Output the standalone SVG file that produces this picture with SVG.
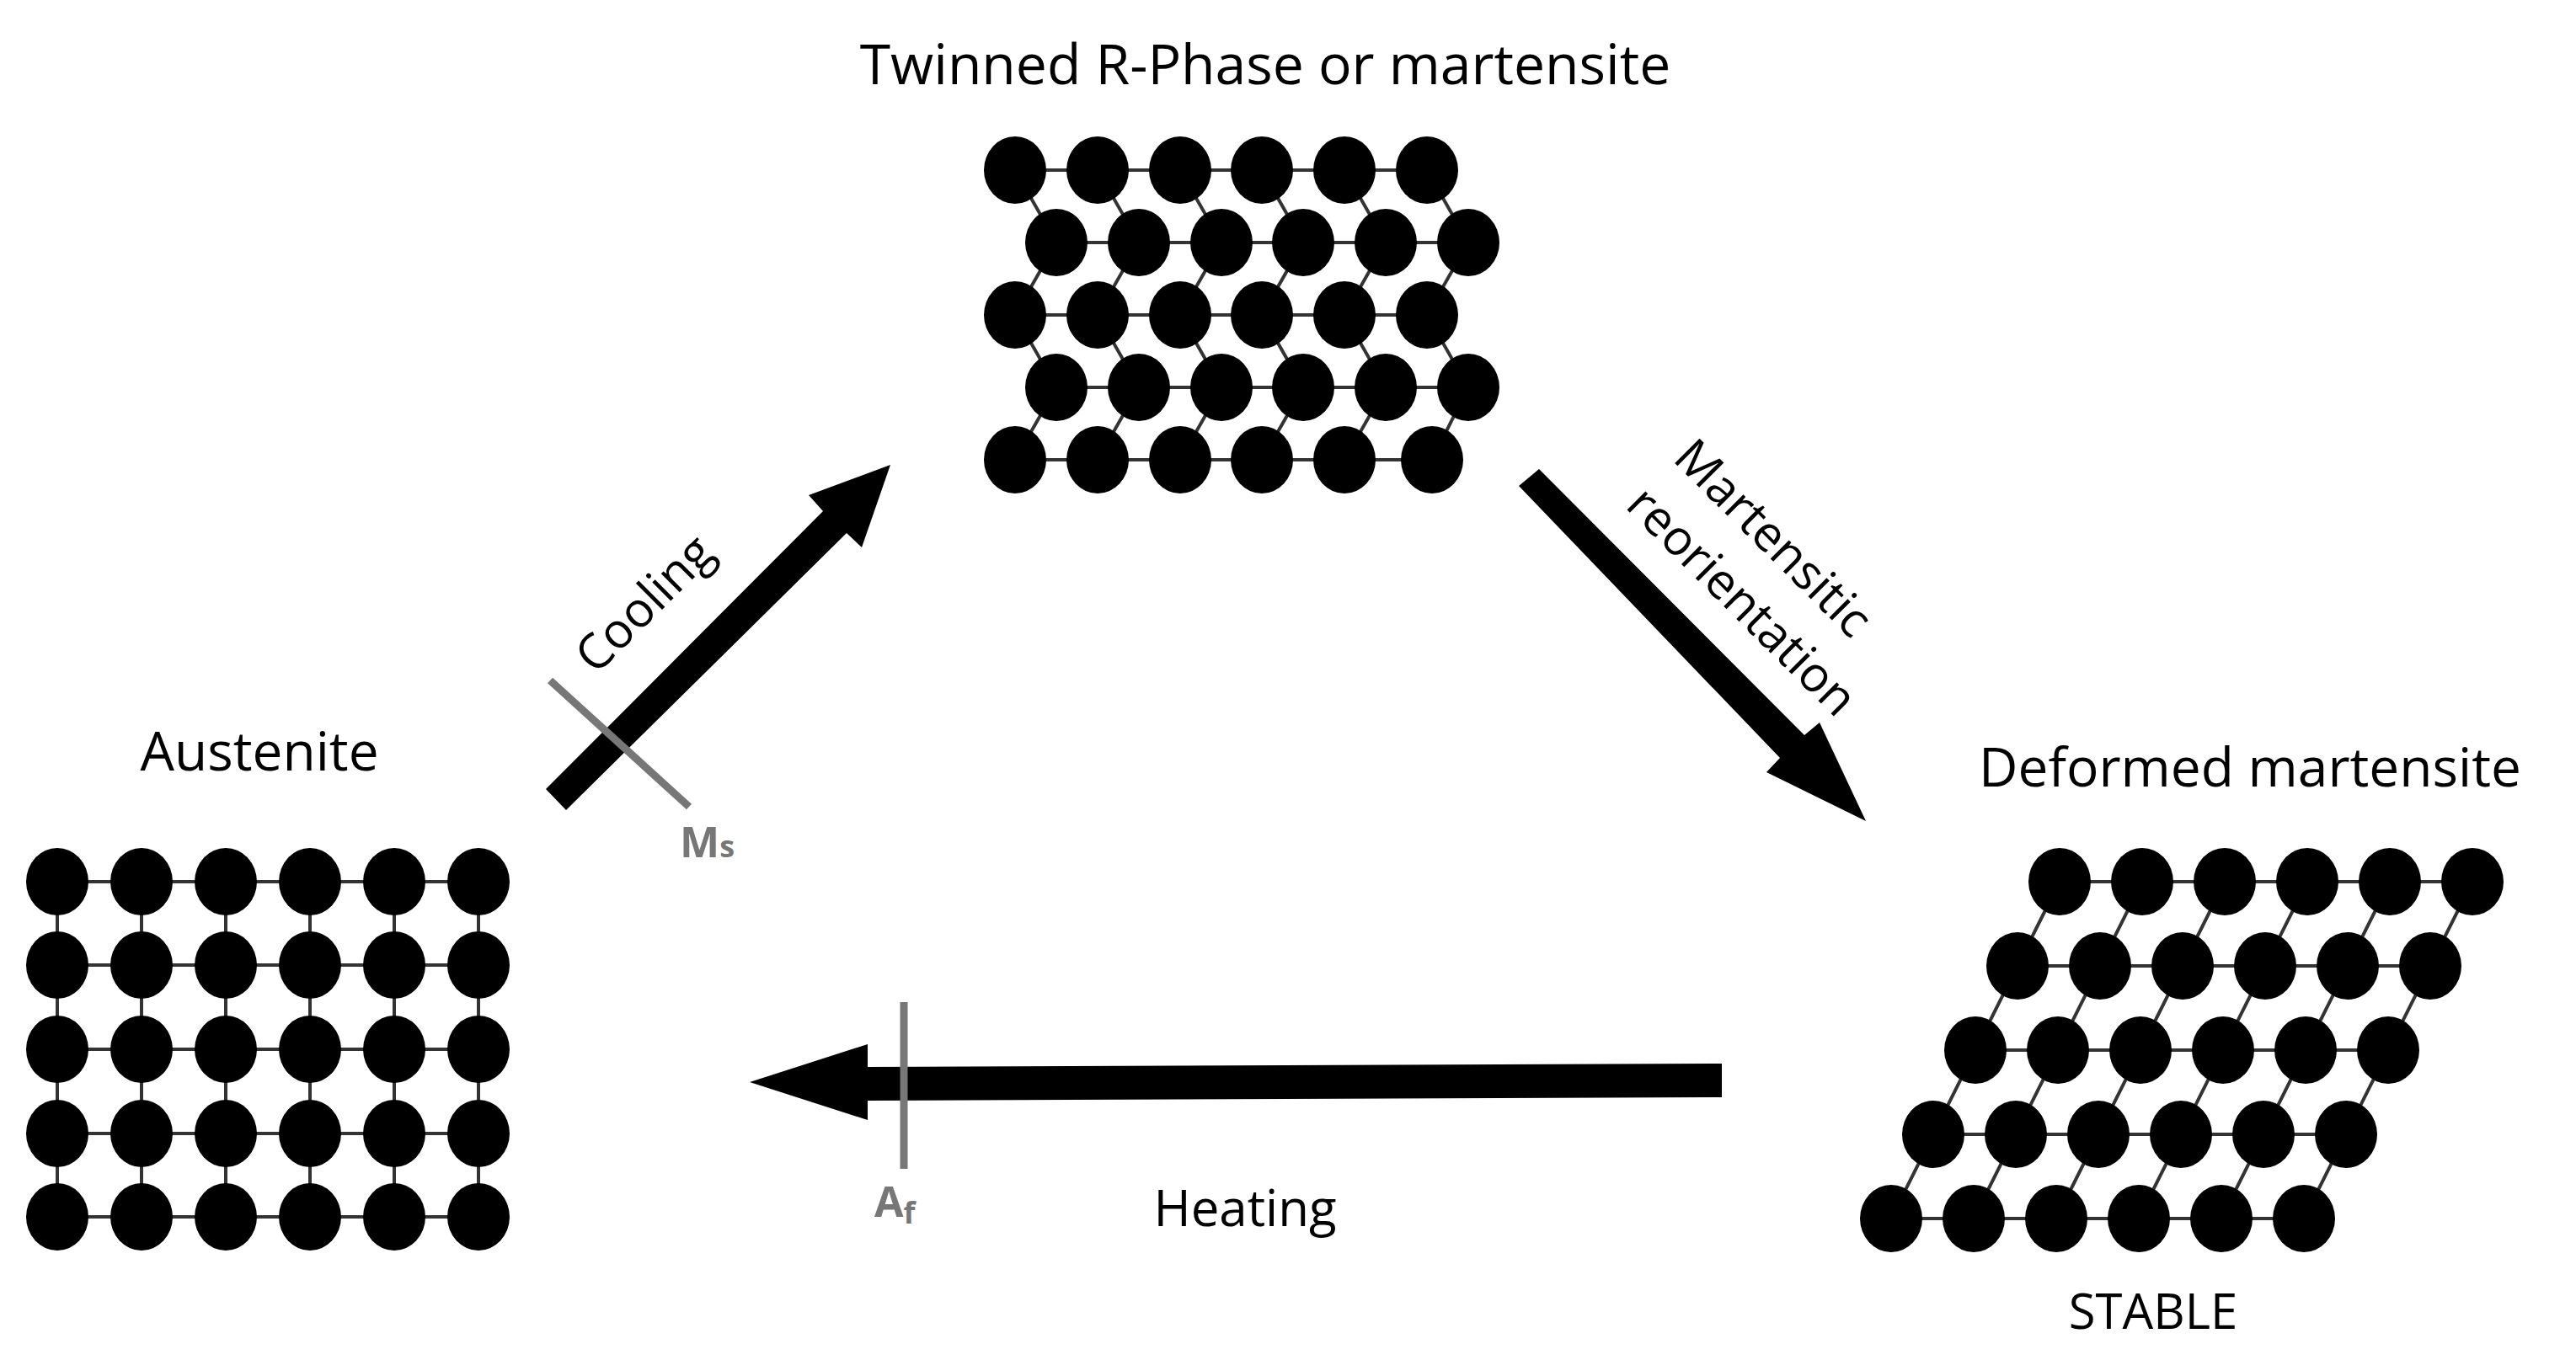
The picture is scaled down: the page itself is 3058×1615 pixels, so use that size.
<svg xmlns="http://www.w3.org/2000/svg" width="3058" height="1615" viewBox="0 0 3058 1615">
<style>
.t{font-family:"Open Sans","Liberation Sans",sans-serif;fill:#000;text-anchor:middle}
.g{font-family:"Open Sans","Liberation Sans",sans-serif;fill:#777;font-weight:bold}
.b{stroke:#333;stroke-width:4;fill:none}
.a{fill:#000}
.m{stroke:#777;stroke-width:9}
</style>
<defs>
<ellipse id="at" rx="37" ry="40" fill="#000"/>
<g id="arow"><use href="#at" x="68" y="0"/><use href="#at" x="168" y="0"/><use href="#at" x="268" y="0"/><use href="#at" x="368" y="0"/><use href="#at" x="468" y="0"/><use href="#at" x="568" y="0"/></g>
<g id="drow"><use href="#at" x="0" y="0"/><use href="#at" x="98" y="0"/><use href="#at" x="196" y="0"/><use href="#at" x="294" y="0"/><use href="#at" x="392" y="0"/><use href="#at" x="490" y="0"/></g>
</defs>
<rect width="3058" height="1615" fill="#fff"/>
<g id="twinned">
<path class="b" d="M1205,202H1694M1254,288H1743M1205,374H1694M1254,460H1743M1205,546H1700
M1205,202L1254,288L1205,374L1254,460L1205,546M1303,202L1352,288L1303,374L1352,460L1303,546M1401,202L1450,288L1401,374L1450,460L1401,546M1498,202L1547,288L1498,374L1547,460L1498,546M1596,202L1645,288L1596,374L1645,460L1596,546M1694,202L1743,288L1694,374L1743,460L1700,546"/>
<use href="#at" x="1205" y="202"/><use href="#at" x="1303" y="202"/><use href="#at" x="1401" y="202"/><use href="#at" x="1498" y="202"/><use href="#at" x="1596" y="202"/><use href="#at" x="1694" y="202"/>
<use href="#at" x="1254" y="288"/><use href="#at" x="1352" y="288"/><use href="#at" x="1450" y="288"/><use href="#at" x="1547" y="288"/><use href="#at" x="1645" y="288"/><use href="#at" x="1743" y="288"/>
<use href="#at" x="1205" y="374"/><use href="#at" x="1303" y="374"/><use href="#at" x="1401" y="374"/><use href="#at" x="1498" y="374"/><use href="#at" x="1596" y="374"/><use href="#at" x="1694" y="374"/>
<use href="#at" x="1254" y="460"/><use href="#at" x="1352" y="460"/><use href="#at" x="1450" y="460"/><use href="#at" x="1547" y="460"/><use href="#at" x="1645" y="460"/><use href="#at" x="1743" y="460"/>
<use href="#at" x="1205" y="546"/><use href="#at" x="1303" y="546"/><use href="#at" x="1401" y="546"/><use href="#at" x="1498" y="546"/><use href="#at" x="1596" y="546"/><use href="#at" x="1700" y="546"/>
<text class="t" x="1502" y="100" font-size="66">Twinned R-Phase or martensite</text>
</g>
<g id="austenite">
<path class="b" d="M68,1047H568M68,1146H568M68,1246H568M68,1346H568M68,1445H568M68,1047V1445M168,1047V1445M268,1047V1445M368,1047V1445M468,1047V1445M568,1047V1445"/>
<use href="#arow" y="1047"/>
<use href="#arow" y="1146"/><use href="#arow" y="1246"/><use href="#arow" y="1346"/><use href="#arow" y="1445"/>
<text class="t" x="308" y="915" font-size="64">Austenite</text>
</g>
<g id="deformed">
<path class="b" d="M2445,1047H2935M2395,1147H2885M2345,1247H2835M2295,1347H2785M2245,1447H2735
M2445,1047L2245,1447M2543,1047L2343,1447M2641,1047L2441,1447M2739,1047L2539,1447M2837,1047L2637,1447M2935,1047L2735,1447"/>
<use href="#drow" x="2445" y="1047"/><use href="#drow" x="2395" y="1147"/><use href="#drow" x="2345" y="1247"/><use href="#drow" x="2295" y="1347"/><use href="#drow" x="2245" y="1447"/>
<text class="t" x="2671" y="934" font-size="64">Deformed martensite</text>
<text class="t" x="2556" y="1578" font-size="58">STABLE</text>
</g>
<g id="connectors">
<polygon class="a" points="648,937 977,607 960,588 1057,552 1023,650 1005,633 672,962"/>
<line class="m" x1="653" y1="808" x2="818" y2="958"/>
<text class="g" x="807" y="1018" font-size="50">M<tspan font-size="36">s</tspan></text>
<text class="t" x="763" y="715" font-size="58" dominant-baseline="central" transform="rotate(-45 763 715)">Cooling</text>
<polygon class="a" points="1827,557 2142,873 2160,858 2215,975 2097,917 2113,900 1803,577"/>
<text class="t" x="2107" y="637" font-size="58" dominant-baseline="central" transform="rotate(45 2107 637)">Martensitic</text>
<text class="t" x="2070" y="712" font-size="58" dominant-baseline="central" transform="rotate(45 2070 712)">reorientation</text>
<polygon class="a" points="2044,1263 1030,1267 1030,1240 890,1285 1030,1330 1030,1307 2044,1303"/>
<line class="m" x1="1073" y1="1190" x2="1073" y2="1388"/>
<text class="g" x="1038" y="1445" font-size="50">A<tspan font-size="36" dy="8">f</tspan></text>
<text class="t" x="1478" y="1456" font-size="60">Heating</text>
</g>
</svg>
